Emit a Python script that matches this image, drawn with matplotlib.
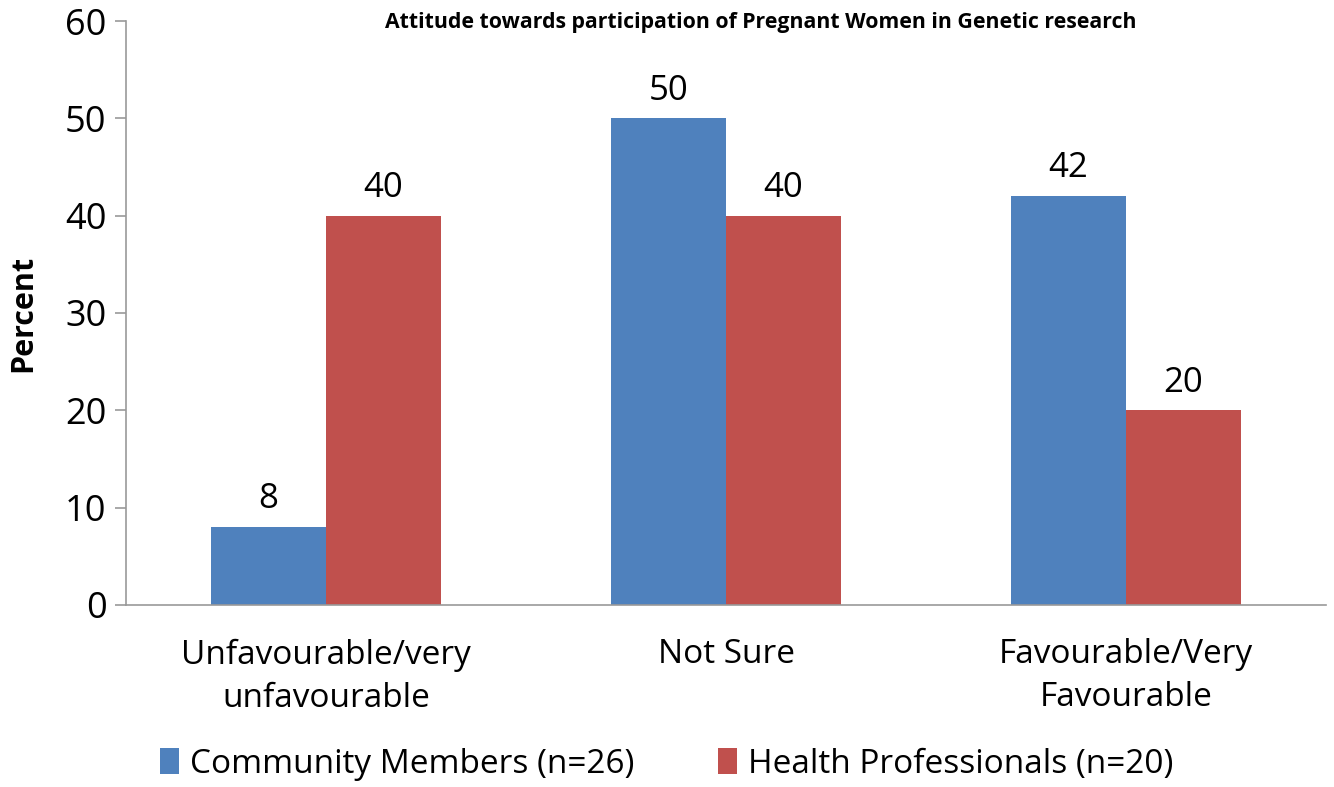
import matplotlib.pyplot as plt
import numpy as np

plt.rcParams['font.family'] = ['Open Sans', 'DejaVu Sans']

# Chart data
categories = ['Unfavourable/very\nunfavourable', 'Not Sure', 'Favourable/Very\nFavourable']
community = [8, 50, 42]
health = [40, 40, 20]
series_names = ['Community Members (n=26)', 'Health Professionals (n=20)']
colors = ['#4F81BD', '#C0504D']

fig = plt.figure(figsize=(13.34, 7.87), dpi=100)
ax = fig.add_axes([0.0945, 0.2313, 0.8995, 0.742])

x = np.arange(len(categories))
w = 0.287
b1 = ax.bar(x - w / 2, community, w, color=colors[0], label=series_names[0])
b2 = ax.bar(x + w / 2, health, w, color=colors[1], label=series_names[1])

# value labels above bars
for bars in (b1, b2):
    for bar in bars:
        h = bar.get_height()
        ax.text(bar.get_x() + bar.get_width() / 2, h + 1.1, f'{h:g}',
                ha='center', va='bottom', fontsize=25)

ax.set_xlim(-0.5, 2.5)
ax.set_ylim(0, 60)
ax.set_yticks(range(0, 61, 10))
ax.tick_params(axis='y', labelsize=26, length=8, color='#999999', width=1.2, pad=6)
ax.set_xticks(x)
ax.set_xticklabels(categories, fontsize=24, linespacing=1.4)
ax.tick_params(axis='x', length=0, pad=24)
for s in ['top', 'right']:
    ax.spines[s].set_visible(False)
for s in ['left', 'bottom']:
    ax.spines[s].set_color('#999999')
    ax.spines[s].set_linewidth(1.2)

ax.set_ylabel('Percent', fontsize=22, fontweight='bold')
ax.yaxis.set_label_coords(-0.073, 0.5)

fig.text(0.57, 0.972, 'Attitude towards participation of Pregnant Women in Genetic research',
         ha='center', va='center', fontsize=15.3, fontweight='bold')

fig.legend(loc='lower center', bbox_to_anchor=(0.5, -0.03), ncol=2, frameon=False,
           fontsize=24, handlelength=0.55, handleheight=0.85, columnspacing=2.5,
           handletextpad=0.35)

fig.savefig('out.png', dpi=100)
